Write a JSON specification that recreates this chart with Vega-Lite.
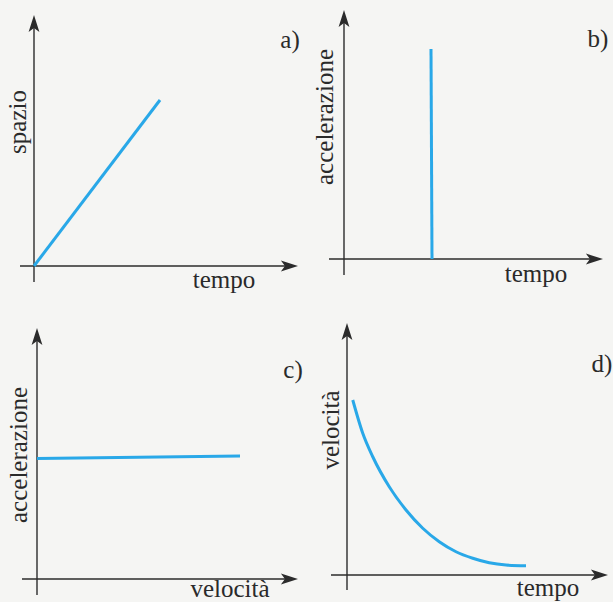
{
  "$schema": "https://vega.github.io/schema/vega-lite/v6.json",
  "background": "#f5f5f3",
  "padding": 0,
  "spacing": 0,
  "columns": 2,
  "bounds": "flush",
  "config": {
    "view": {"stroke": null},
    "text": {"font": "Liberation Serif", "fontSize": 25, "color": "#2a2a2a"}
  },
  "concat": [
        {
          "width": 306, "height": 300,
          "encoding": {
            "x": {"field": "x", "type": "quantitative", "scale": {"domain": [-1.36, 10.88], "nice": false, "zero": false}, "axis": null},
            "y": {"field": "y", "type": "quantitative", "scale": {"domain": [-1.36, 10.64], "nice": false, "zero": false}, "axis": null}
          },
          "layer": [
            {"data": {"values": [{"x": -0.56, "y": 0, "x2": 10.2, "y2": 0}, {"x": 0, "y": -0.64, "x2": 0, "y2": 9.68}]},
             "mark": {"type": "rule", "color": "#2b2b2b", "strokeWidth": 1.4},
             "encoding": {"x2": {"field": "x2"}, "y2": {"field": "y2"}}},
            {"data": {"values": [{"x": 0, "y": 9.68}]},
             "mark": {"type": "point", "shape": "M0,-1L0.6,0.9L0,0.45L-0.6,0.9Z", "filled": true, "size": 324, "color": "#2b2b2b", "opacity": 1, "angle": 0}},
            {"data": {"values": [{"x": 10.2, "y": 0}]},
             "mark": {"type": "point", "shape": "M0,-1L0.6,0.9L0,0.45L-0.6,0.9Z", "filled": true, "size": 324, "color": "#2b2b2b", "opacity": 1, "angle": 90}},
            {"data": {"values": [{"x": 0, "y": 0}, {"x": 5.04, "y": 6.64}]},
             "mark": {"type": "line", "color": "#29a8e8", "strokeWidth": 3}},
            {"data": {"values": [{"label": "spazio", "x": -0.32, "y": 5.76}]},
             "mark": {"type": "text", "angle": 270, "align": "center", "baseline": "alphabetic"},
             "encoding": {"text": {"field": "label"}}},
            {"data": {"values": [{"label": "tempo", "x": 7.6, "y": -0.88}, {"label": "a)", "x": 10.24, "y": 8.72}]},
             "mark": {"type": "text", "align": "center", "baseline": "alphabetic"},
             "encoding": {"text": {"field": "label"}}}
          ]
        },
        {
          "width": 307, "height": 300,
          "encoding": {
            "x": {"field": "x", "type": "quantitative", "scale": {"domain": [-1.52, 10.76], "nice": false, "zero": false}, "axis": null},
            "y": {"field": "y", "type": "quantitative", "scale": {"domain": [-1.64, 10.36], "nice": false, "zero": false}, "axis": null}
          },
          "layer": [
            {"data": {"values": [{"x": -0.6, "y": 0, "x2": 10.0, "y2": 0}, {"x": 0, "y": -0.64, "x2": 0, "y2": 9.6}]},
             "mark": {"type": "rule", "color": "#2b2b2b", "strokeWidth": 1.4},
             "encoding": {"x2": {"field": "x2"}, "y2": {"field": "y2"}}},
            {"data": {"values": [{"x": 0, "y": 9.6}]},
             "mark": {"type": "point", "shape": "M0,-1L0.6,0.9L0,0.45L-0.6,0.9Z", "filled": true, "size": 324, "color": "#2b2b2b", "opacity": 1, "angle": 0}},
            {"data": {"values": [{"x": 10.0, "y": 0}]},
             "mark": {"type": "point", "shape": "M0,-1L0.6,0.9L0,0.45L-0.6,0.9Z", "filled": true, "size": 324, "color": "#2b2b2b", "opacity": 1, "angle": 90}},
            {"data": {"values": [{"x": 3.52, "y": 0}, {"x": 3.48, "y": 8.4}]},
             "mark": {"type": "line", "color": "#29a8e8", "strokeWidth": 3}},
            {"data": {"values": [{"label": "accelerazione", "x": -0.44, "y": 5.68}]},
             "mark": {"type": "text", "angle": 270, "align": "center", "baseline": "alphabetic"},
             "encoding": {"text": {"field": "label"}}},
            {"data": {"values": [{"label": "tempo", "x": 7.68, "y": -0.92}, {"label": "b)", "x": 10.16, "y": 8.48}]},
             "mark": {"type": "text", "align": "center", "baseline": "alphabetic"},
             "encoding": {"text": {"field": "label"}}}
          ]
        },
        {
          "width": 306, "height": 302,
          "encoding": {
            "x": {"field": "x", "type": "quantitative", "scale": {"domain": [-1.48, 10.76], "nice": false, "zero": false}, "axis": null},
            "y": {"field": "y", "type": "quantitative", "scale": {"domain": [-0.92, 11.16], "nice": false, "zero": false}, "axis": null}
          },
          "layer": [
            {"data": {"values": [{"x": -0.6, "y": 0, "x2": 10.08, "y2": 0}, {"x": 0, "y": -0.64, "x2": 0, "y2": 9.68}]},
             "mark": {"type": "rule", "color": "#2b2b2b", "strokeWidth": 1.4},
             "encoding": {"x2": {"field": "x2"}, "y2": {"field": "y2"}}},
            {"data": {"values": [{"x": 0, "y": 9.68}]},
             "mark": {"type": "point", "shape": "M0,-1L0.6,0.9L0,0.45L-0.6,0.9Z", "filled": true, "size": 324, "color": "#2b2b2b", "opacity": 1, "angle": 0}},
            {"data": {"values": [{"x": 10.08, "y": 0}]},
             "mark": {"type": "point", "shape": "M0,-1L0.6,0.9L0,0.45L-0.6,0.9Z", "filled": true, "size": 324, "color": "#2b2b2b", "opacity": 1, "angle": 90}},
            {"data": {"values": [{"x": 0, "y": 4.82}, {"x": 8.12, "y": 4.92}]},
             "mark": {"type": "line", "color": "#29a8e8", "strokeWidth": 3}},
            {"data": {"values": [{"label": "accelerazione", "x": -0.4, "y": 4.96}]},
             "mark": {"type": "text", "angle": 270, "align": "center", "baseline": "alphabetic"},
             "encoding": {"text": {"field": "label"}}},
            {"data": {"values": [{"label": "velocità", "x": 7.72, "y": -0.72}, {"label": "c)", "x": 10.24, "y": 8.04}]},
             "mark": {"type": "text", "align": "center", "baseline": "alphabetic"},
             "encoding": {"text": {"field": "label"}}}
          ]
        },
        {
          "width": 307, "height": 302,
          "encoding": {
            "x": {"field": "x", "type": "quantitative", "scale": {"domain": [-1.64, 10.64], "nice": false, "zero": false}, "axis": null},
            "y": {"field": "y", "type": "quantitative", "scale": {"domain": [-1.08, 11.0], "nice": false, "zero": false}, "axis": null}
          },
          "layer": [
            {"data": {"values": [{"x": -0.64, "y": 0, "x2": 10.08, "y2": 0}, {"x": 0, "y": -0.6, "x2": 0, "y2": 9.72}]},
             "mark": {"type": "rule", "color": "#2b2b2b", "strokeWidth": 1.4},
             "encoding": {"x2": {"field": "x2"}, "y2": {"field": "y2"}}},
            {"data": {"values": [{"x": 0, "y": 9.72}]},
             "mark": {"type": "point", "shape": "M0,-1L0.6,0.9L0,0.45L-0.6,0.9Z", "filled": true, "size": 324, "color": "#2b2b2b", "opacity": 1, "angle": 0}},
            {"data": {"values": [{"x": 10.08, "y": 0}]},
             "mark": {"type": "point", "shape": "M0,-1L0.6,0.9L0,0.45L-0.6,0.9Z", "filled": true, "size": 324, "color": "#2b2b2b", "opacity": 1, "angle": 90}},
            {"data": {"values": [
              {"x": 0.23, "y": 7.0}, {"x": 0.63, "y": 5.67}, {"x": 1.03, "y": 4.73}, {"x": 1.69, "y": 3.53},
              {"x": 2.36, "y": 2.6}, {"x": 3.03, "y": 1.87}, {"x": 3.69, "y": 1.33}, {"x": 4.36, "y": 0.93},
              {"x": 5.03, "y": 0.67}, {"x": 5.69, "y": 0.49}, {"x": 6.36, "y": 0.4}, {"x": 7.16, "y": 0.37}
            ]},
             "mark": {"type": "line", "color": "#29a8e8", "strokeWidth": 3, "interpolate": "monotone"}},
            {"data": {"values": [{"label": "velocità", "x": -0.32, "y": 5.8}]},
             "mark": {"type": "text", "angle": 270, "align": "center", "baseline": "alphabetic"},
             "encoding": {"text": {"field": "label"}}},
            {"data": {"values": [{"label": "tempo", "x": 8.04, "y": -0.84}, {"label": "d)", "x": 10.2, "y": 8.12}]},
             "mark": {"type": "text", "align": "center", "baseline": "alphabetic"},
             "encoding": {"text": {"field": "label"}}}
          ]
        }
  ]
}
